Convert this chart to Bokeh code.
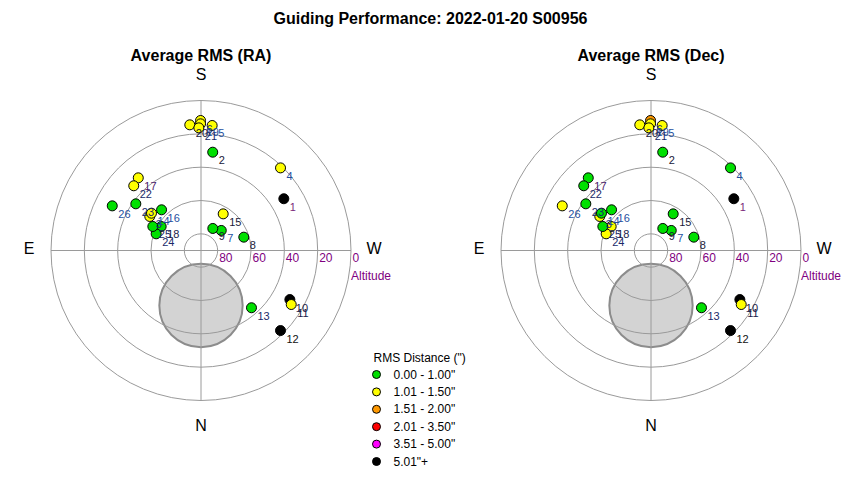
import math
from bokeh.plotting import figure
from bokeh.models import Range1d, ColumnDataSource
from bokeh.embed import file_html
from bokeh.resources import INLINE
from bokeh.core.properties import value

# ---------------- data ----------------
main_title = "Guiding Performance: 2022-01-20 S00956"
panel_titles = ["Average RMS (RA)", "Average RMS (Dec)"]

point_ids = list(range(1, 27))
azimuth = [238.0, 186.8, 123.6, 223.9, 185.1, 179.8, 225.3, 252.7, 208.2, 298.9,
           300.9, 315.2, 318.6, 127.0, 211.2, 135.9, 139.2, 121.1, 179.8, 174.9,
           179.0, 133.9, 125.6, 110.4, 116.5, 116.7]
altitude = [31.4, 30.6, 53.1, 21.2, 14.7, 12.0, 72.9, 63.1, 75.0, 29.1,
            26.9, 22.3, 44.2, 52.8, 64.3, 56.0, 32.4, 62.1, 14.0, 14.3,
            16.4, 34.0, 41.9, 61.3, 57.7, 30.4]
# RMS class index per point (0..5, see class_labels)
ra_class = [5, 0, 1, 1, 1, 1, 0, 0, 0, 5, 1, 5, 0, 1, 1, 0, 1, 0, 1, 1, 1, 1, 0, 0, 0, 0]
dec_class = [5, 0, 1, 0, 1, 2, 0, 0, 0, 5, 1, 5, 0, 0, 0, 0, 0, 1, 1, 1, 1, 0, 0, 1, 0, 1]
label_colors = ["#7a1f7a", "#1a1a3a", "#1a2a6a", "#1f4fa0", "#1f4fa0", "#1a2a6a",
                "#1f4fa0", "#1a1a3a", "#1a1a3a", "#1a1a4a", "#1a1a4a", "#111111",
                "#1a2a6a", "#1f4fa0", "#1a1a3a", "#1f4fa0", "#4a1a6a", "#1a1a4a",
                "#1f4fa0", "#1a1a3a", "#1a2a6a", "#1a2a6a", "#1a2a6a", "#1a2a6a",
                "#1a2a6a", "#1f4fa0"]

legend_title = 'RMS Distance (")'
class_labels = ['0.00 - 1.00"', '1.01 - 1.50"', '1.51 - 2.00"',
                '2.01 - 3.50"', '3.51 - 5.00"', '5.01"+']
class_colors = ["#00e000", "#ffff00", "#ff9900", "#ff0000", "#ff00ff", "#000000"]

alt_ticks = [80, 60, 40, 20, 0]
moon_az, moon_alt, moon_radius = 0.0, 57.0, 25.0

# ---------------- layout ----------------
W, H = 850, 480
UPP = 0.6            # data units (zenith degrees) per pixel
LEFT_CX_PX, CY_PX = 200.5, 250.0
PANEL_GAP_PX = 450.0
FONT = "Liberation Sans"


def ux(px):
    return (px - LEFT_CX_PX) * UPP


def uy(py):
    return (CY_PX - py) * UPP


x0 = ux(0)
y0 = uy(H)
p = figure(width=W, height=H, x_range=Range1d(x0, x0 + W * UPP),
           y_range=Range1d(y0, y0 + H * UPP), output_backend="svg",
           toolbar_location=None, x_axis_type=None, y_axis_type=None,
           min_border=0, min_border_left=0, min_border_right=0,
           min_border_top=0, min_border_bottom=0)
p.grid.visible = False
p.outline_line_color = None
p.background_fill_color = "white"
p.border_fill_color = "white"


def polar(az, alt, cx):
    z = 90.0 - alt
    a = math.radians(az)
    return cx - z * math.sin(a), -z * math.cos(a)


p.text(x=[ux(430)], y=[uy(18)], text=[main_title], text_font=value(FONT),
       text_font_size="16px", text_font_style="bold", text_align="center",
       text_baseline="middle", text_color="black")

for k, (title, classes) in enumerate(zip(panel_titles, [ra_class, dec_class])):
    cx = k * PANEL_GAP_PX * UPP
    p.text(x=[cx], y=[uy(55)], text=[title], text_font=value(FONT),
           text_font_size="16px", text_font_style="bold", text_align="center",
           text_baseline="middle", text_color="black")

    # moon / obstruction
    mx, my = polar(moon_az, moon_alt, cx)
    p.circle(x=[mx], y=[my], radius=moon_radius, fill_color="#d3d3d3",
             line_color="#8c8c8c", line_width=2)

    # rings and cross
    radii = [90 - a for a in alt_ticks]
    p.circle(x=[cx] * len(radii), y=[0] * len(radii), radius=radii,
             fill_color=None, line_color="#9a9a9a", line_width=1)
    p.segment(x0=[cx - 90, cx], y0=[0, -90], x1=[cx + 90, cx], y1=[0, 90],
              line_color="#9a9a9a", line_width=1)

    # altitude ticks
    p.text(x=[cx + r for r in radii], y=[0] * len(radii),
           text=[str(a) for a in alt_ticks], text_font=value(FONT),
           text_font_size="12px", text_color="#800080", text_align="left",
           text_baseline="top", x_offset=1.5, y_offset=2)
    p.text(x=[cx + 90], y=[0], text=["Altitude"], text_font=value(FONT),
           text_font_size="12px", text_color="#800080", text_align="left",
           text_baseline="middle", y_offset=25)

    # compass
    p.text(x=[cx, cx], y=[90, -90], text=["S", "N"], text_font=value(FONT),
           text_font_size="16px", text_color="black", text_align="center",
           text_baseline="middle", y_offset=[-26, 25])
    p.text(x=[cx - 90, cx + 90], y=[0, 0], text=["E", "W"], text_font=value(FONT),
           text_font_size="16px", text_color="black", text_align="center",
           text_baseline="middle", x_offset=[-22, 23], y_offset=-2)

    xs, ys = zip(*[polar(a, h, cx) for a, h in zip(azimuth, altitude)])
    src = ColumnDataSource(dict(x=list(xs), y=list(ys),
                                color=[class_colors[c] for c in classes],
                                label=[str(i) for i in point_ids],
                                lcolor=label_colors))
    p.scatter(x="x", y="y", source=src, size=10, fill_color="color",
              line_color="black", line_width=1)
    p.text(x="x", y="y", text="label", source=src, text_color="lcolor",
           text_font=value(FONT), text_font_size="11px", text_align="left",
           text_baseline="middle", x_offset=6, y_offset=8)

# legend (drawn manually)
p.text(x=[ux(373)], y=[uy(357)], text=[legend_title], text_font=value(FONT),
       text_font_size="12px", text_color="black", text_align="left",
       text_baseline="middle")
leg_y = [uy(374 + 17.4 * i) for i in range(len(class_labels))]
p.scatter(x=[ux(376)] * len(class_labels), y=leg_y, size=8,
          fill_color=class_colors, line_color="black", line_width=1)
p.text(x=[ux(393)] * len(class_labels), y=leg_y, text=class_labels,
       text_font=value(FONT), text_font_size="12px", text_color="black",
       text_align="left", text_baseline="middle")

open("out.html", "w").write(file_html(p, INLINE))
